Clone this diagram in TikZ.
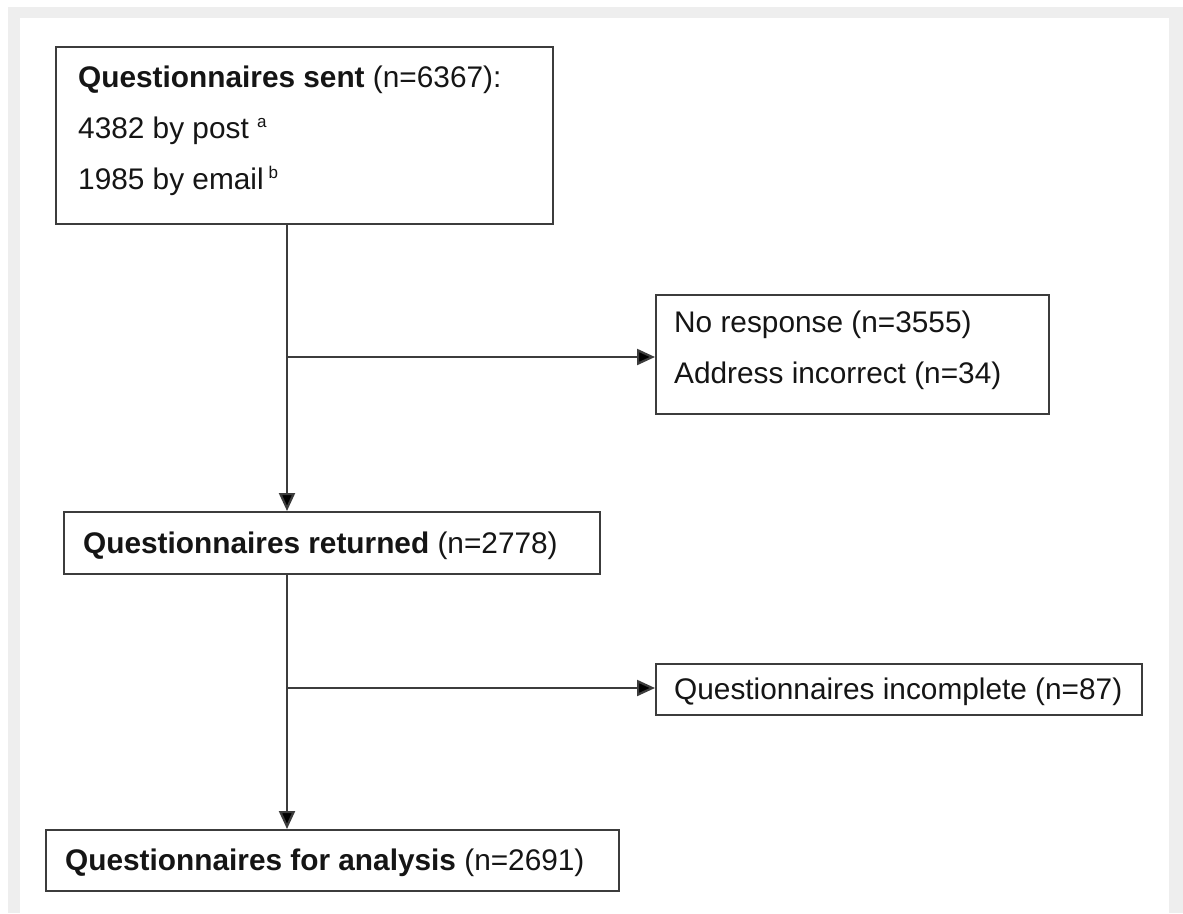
\documentclass[tikz,border=0pt]{standalone}
\usepackage{fontspec}
\setmainfont{Liberation Sans}
\usetikzlibrary{arrows.meta}
\definecolor{bggray}{HTML}{EEEEEE}
\definecolor{linegray}{HTML}{3C3C3C}
\definecolor{txtcol}{HTML}{151515}
\newcommand{\mysup}[1]{\raisebox{11pt}{\fontsize{17pt}{18pt}\selectfont #1}}
\begin{document}
\begin{tikzpicture}[x=1pt,y=-1pt,
  box/.style={draw=linegray, line width=2.2pt, fill=white, rectangle, inner sep=0pt},
  txt/.style={text=txtcol, inner sep=0pt, font=\fontsize{29.8pt}{36pt}\selectfont},
  arr/.style={draw=linegray, line width=2.2pt, -{Triangle[length=18pt,width=16pt,fill=black]}},
  ln/.style={draw=linegray, line width=2.2pt}]
  % background
  \useasboundingbox (0,0) rectangle (1183,913);
  \fill[white] (0,0) rectangle (1183,913);
  \fill[bggray] (8,7) rectangle (1183,913);
  \fill[white] (20,18) rectangle (1169,913);

  % boxes
  \node[box, minimum width=497pt, minimum height=177pt, anchor=north west] (sent) at (55,46) {};
  \node[box, minimum width=393pt, minimum height=119pt, anchor=north west] (noresp) at (655,294) {};
  \node[box, minimum width=536pt, minimum height=62pt, anchor=north west] (ret) at (63,511) {};
  \node[box, minimum width=486pt, minimum height=51pt, anchor=north west] (inc) at (655,663) {};
  \node[box, minimum width=573pt, minimum height=61pt, anchor=north west] (ana) at (45,829) {};

  % texts
  \node[txt, anchor=base west] (t1) at (78,87) {\textbf{Questionnaires sent} (n=6367):};
  \node[txt, anchor=base west] (t2) at (78,138) {4382 by post \mysup{a}};
  \node[txt, anchor=base west] (t3) at (78,189) {1985 by email\,\mysup{b}};
  \node[txt, anchor=base west] (t4) at (674,332) {No response (n=3555)};
  \node[txt, anchor=base west] (t5) at (674,383) {Address incorrect (n=34)};
  \node[txt, anchor=base west] (t6) at (83,553) {\textbf{Questionnaires returned} (n=2778)};
  \node[txt, anchor=base west] (t7) at (674,699) {Questionnaires incomplete (n=87)};
  \node[txt, anchor=base west] (t8) at (65,870) {\textbf{Questionnaires for analysis} (n=2691)};

  % spine
  \coordinate (spine) at (287,0);
  \coordinate (b1) at (287,357);
  \coordinate (b2) at (287,688);

  \draw[arr] (sent.south -| spine) -- (ret.north -| spine);
  \draw[arr] (b1) -- (b1 -| noresp.west);
  \draw[arr] (ret.south -| spine) -- (ana.north -| spine);
  \draw[arr] (b2) -- (b2 -| inc.west);
\end{tikzpicture}
\end{document}
